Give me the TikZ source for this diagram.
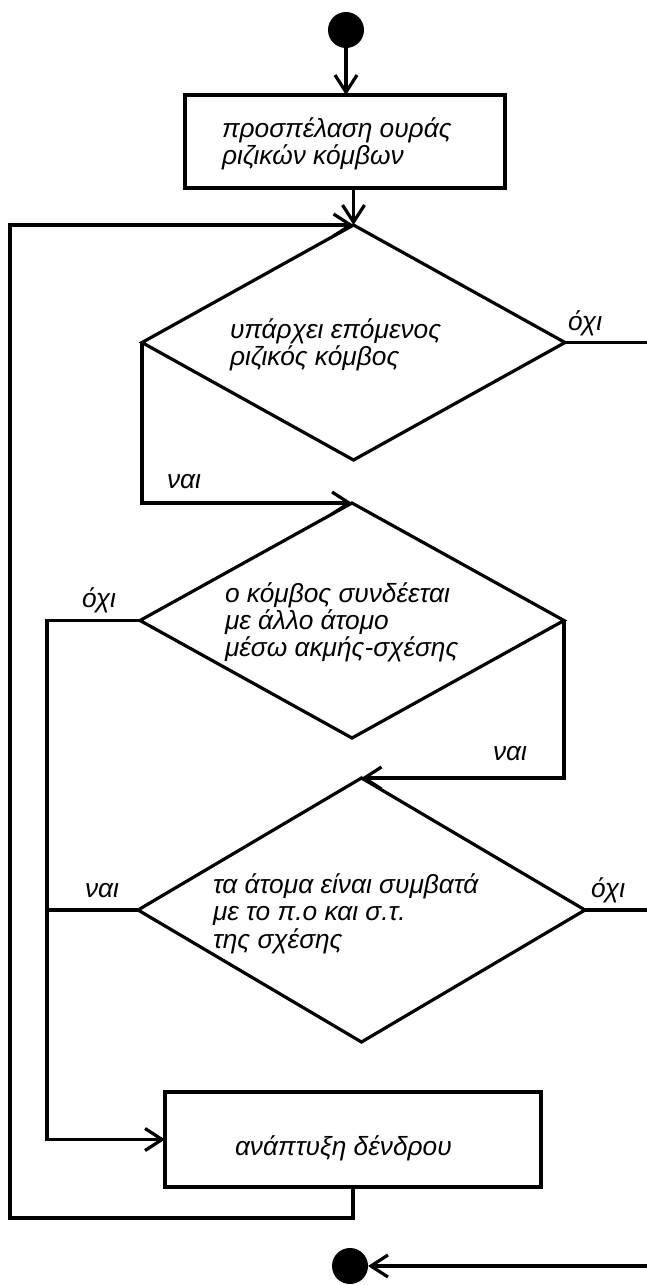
\documentclass[tikz,border=0pt]{standalone}
\usepackage{fontspec}
\setmainfont{Liberation Sans}
\usetikzlibrary{arrows.meta,shapes.geometric}
\begin{document}
\begin{tikzpicture}[x=1pt,y=-1pt,
  line width=3.2pt,
  arr/.style={-{Straight Barb[length=17pt,width=22pt]}},
  box/.style={draw,rectangle,inner sep=0pt,outer sep=0pt},
  dia/.style={draw,diamond,inner sep=0pt,outer sep=0pt},
  txt/.style={anchor=base west,inner sep=0pt,outer sep=0pt,font=\fontsize{26.3}{30}\selectfont\itshape},
  dot/.style={circle,fill=black,inner sep=0pt,outer sep=0pt,minimum size=36pt}
]
\useasboundingbox (0,0) rectangle (647,1285);
% shapes
\node[dot] (start) at (346,30) {};
\node[box,minimum width=320pt,minimum height=93pt] (b1) at (345,141.5) {};
\node[dia,minimum width=423pt,minimum height=235pt] (d1) at (353.5,342.5) {};
\node[dia,minimum width=424pt,minimum height=235pt] (d2) at (352,620.5) {};
\node[dia,minimum width=447pt,minimum height=264pt] (d3) at (361.5,910) {};
\node[box,minimum width=376pt,minimum height=95pt] (b2) at (353,1139.5) {};
\node[dot] (end) at (350,1266) {};
% helper coordinates
\coordinate (lL) at (10,1218);
\coordinate (l2) at (47,0);
\coordinate (r1) at (647,342.5);
\coordinate (r3) at (647,910);
\coordinate (r4) at (647,1266);
% connectors
\draw[arr] (start) -- (start |- b1.north);
\draw[arr] (d1.north |- b1.south) -- (d1.north);
\draw[arr] (b2.south) |- (lL) |- (d1.north);
\draw (d1.east) -- (r1);
\draw[arr] (d1.west) |- (d2.north);
\draw[arr] (d2.west) -- (d2.west -| l2) |- (b2.west);
\draw[arr] (d2.east) |- (d3.north);
\draw (d3.west) -- (d3.west -| l2);
\draw (d3.east) -- (r3);
\draw[arr] (r4) -- (end);
% texts
\node[txt] (t1a) at (222,137) {προσπέλαση ουράς};
\node[txt] (t1b) at (222,164) {ριζικών κόμβων};
\node[txt] (t2a) at (230,338) {υπάρχει επόμενος};
\node[txt] (t2b) at (230,365) {ριζικός κόμβος};
\node[txt] (t3a) at (225,602) {ο κόμβος συνδέεται};
\node[txt] (t3b) at (225,629) {με άλλο άτομο};
\node[txt] (t3c) at (225,656) {μέσω ακμής-σχέσης};
\node[txt] (t4a) at (213,893) {τα άτομα είναι συμβατά};
\node[txt] (t4b) at (213,920) {με το π.ο και σ.τ.};
\node[txt] (t4c) at (213,948) {της σχέσης};
\node[txt] (t5) at (235,1155) {ανάπτυξη δένδρου};
% branch labels
\node[txt] (n1) at (568,330) {όχι};
\node[txt] (y1) at (167,488) {ναι};
\node[txt] (n2) at (82,607) {όχι};
\node[txt] (y2) at (493,760) {ναι};
\node[txt] (y3) at (85,897) {ναι};
\node[txt] (n3) at (591,897) {όχι};
\end{tikzpicture}
\end{document}
